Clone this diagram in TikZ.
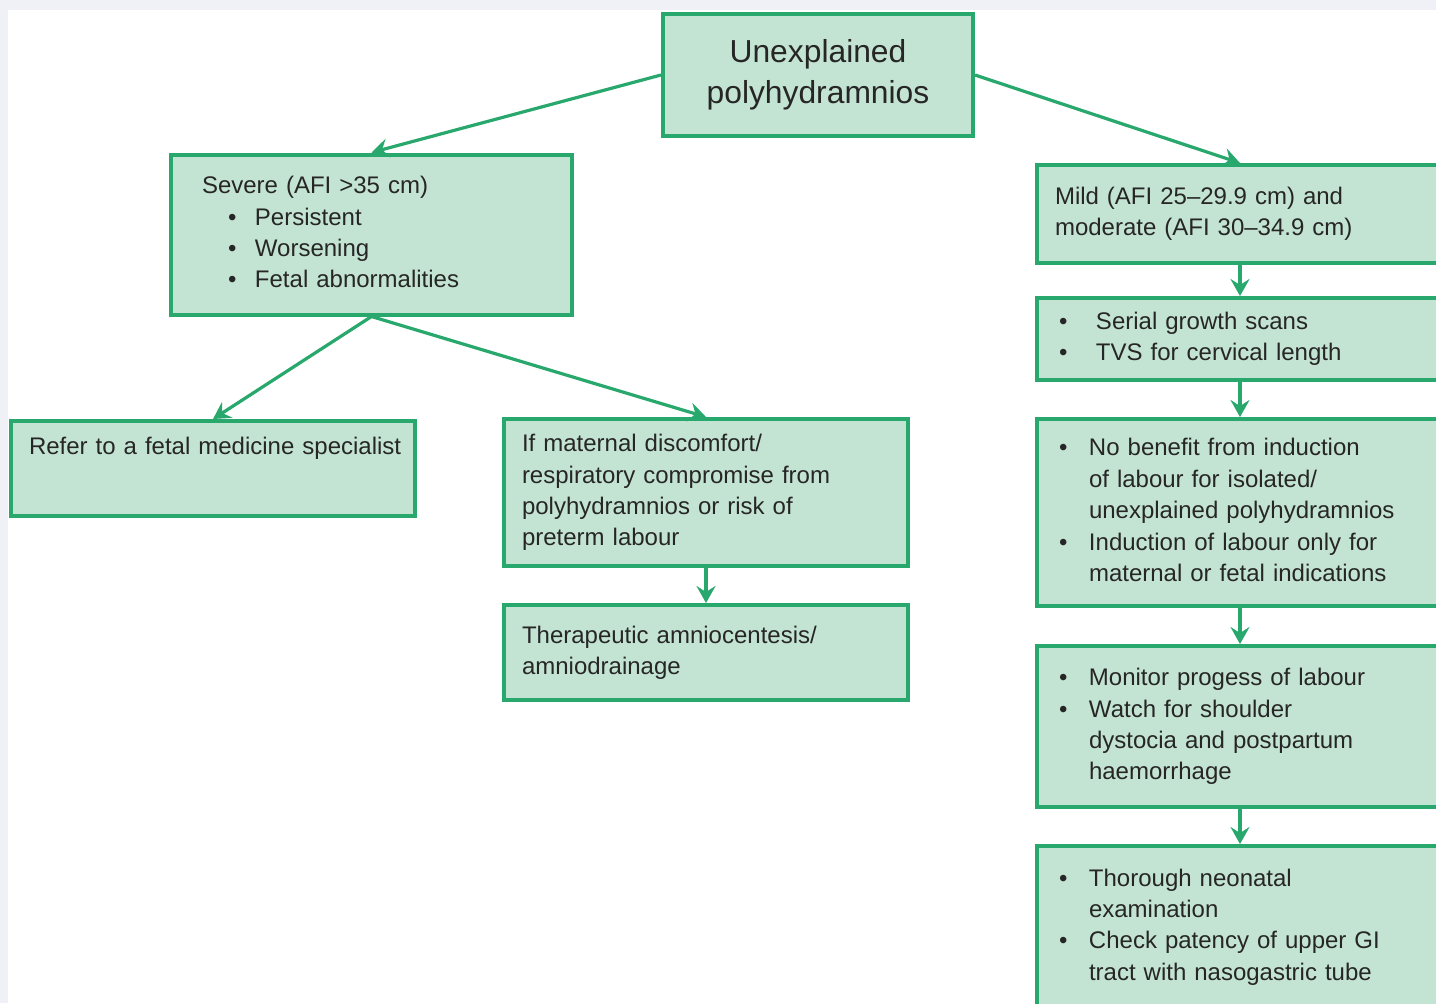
\documentclass[tikz,border=0pt]{standalone}
\usepackage{fontspec}
\setmainfont{Liberation Sans}
\usetikzlibrary{arrows.meta,positioning}
\definecolor{boxfill}{RGB}{196,228,211}
\definecolor{boxline}{RGB}{40,168,108}
\definecolor{pagebg}{RGB}{239,241,246}
\newcommand{\blist}[3]{\begin{tabular}{@{\hspace{#1}}p{#2}@{}l@{}}#3\end{tabular}}

\begin{document}
\begin{tikzpicture}[x=0.5pt,y=-0.5pt,
    flowbox/.style={draw=boxline,fill=boxfill,line width=2pt,align=left,
      inner xsep=9pt,inner ysep=0pt,text=black!85,
      font=\fontsize{12}{15.7}\selectfont},
    conn/.style={draw=boxline,line width=1.6pt,
      -{Stealth[length=8.5pt,width=9.5pt,inset=3pt]}}]
    \clip (0,0) rectangle (1436,1003);
    \fill[pagebg] (0,0) rectangle (1436,1003);
    \fill[white] (8,10) rectangle (1436,1003);
    \node[flowbox,align=center,text width=137pt,minimum height=61pt,
      font=\fontsize{15.9}{20.5}\selectfont] (top) at (818,75)
      {Unexplained\\polyhydramnios};
    \node[flowbox,inner xsep=15.5pt,text width=169.5pt,minimum height=80pt]
      (severe) at (371.5,234.5)
      {\blist{13pt}{13.5pt}{\multicolumn{2}{@{}l@{}}{Severe (AFI >35 cm)}\\
        \textbullet & Persistent\\ \textbullet & Worsening\\
        \textbullet & Fetal abnormalities}};
    \node[flowbox,anchor=north,text width=184pt,inner ysep=8pt,text depth=22.6pt]
      (refer) at (213,419) {\mbox{Refer to a fetal medicine specialist}};
    \node[flowbox,text width=184pt,minimum height=73.5pt] (disc) at (706,492.5)
      {If maternal discomfort/\\respiratory compromise from\\
       polyhydramnios or risk of\\preterm labour};
    \node[flowbox,text width=184pt,minimum height=47.5pt] (ther) at (706,652.5)
      {Therapeutic amniocentesis/\\amniodrainage};
    \node[flowbox,text width=185pt,minimum height=49pt] (mild) at (1240,214)
      {Mild (AFI 25–29.9 cm) and\\moderate (AFI 30–34.9 cm)};
    \node[flowbox,text width=185pt,minimum height=41pt] (serial) at (1240,339)
      {\blist{2pt}{18.5pt}{\textbullet & Serial growth scans\\
        \textbullet & TVS for cervical length}};
    \node[flowbox,text width=185pt,minimum height=93.5pt] (nobenefit) at (1240,512.5)
      {\blist{2pt}{15pt}{\textbullet & No benefit from induction\\
        & of labour for isolated/\\ & unexplained polyhydramnios\\
        \textbullet & Induction of labour only for\\
        & maternal or fetal indications}};
    \node[flowbox,text width=185pt,minimum height=80.5pt] (monitor) at (1240,726.5)
      {\blist{2pt}{15pt}{\textbullet & Monitor progess of labour\\
        \textbullet & Watch for shoulder\\ & dystocia and postpartum\\
        & haemorrhage}};
    \node[flowbox,text width=185pt,minimum height=81pt] (thorough) at (1240,927)
      {\blist{2pt}{15pt}{\textbullet & Thorough neonatal\\ & examination\\
        \textbullet & Check patency of upper GI\\
        & tract with nasogastric tube}};
    \draw[conn] (top.west) -- (severe.north);
    \draw[conn] (top.east) -- (mild.north);
    \draw[conn] (severe.south) -- (refer.north);
    \draw[conn] (severe.south) -- (disc.north);
    \draw[conn] (disc) -- (ther);
    \foreach \a/\b in {mild/serial,serial/nobenefit,nobenefit/monitor,monitor/thorough}
      \draw[conn] (\a) -- (\b);
\end{tikzpicture}
\end{document}
